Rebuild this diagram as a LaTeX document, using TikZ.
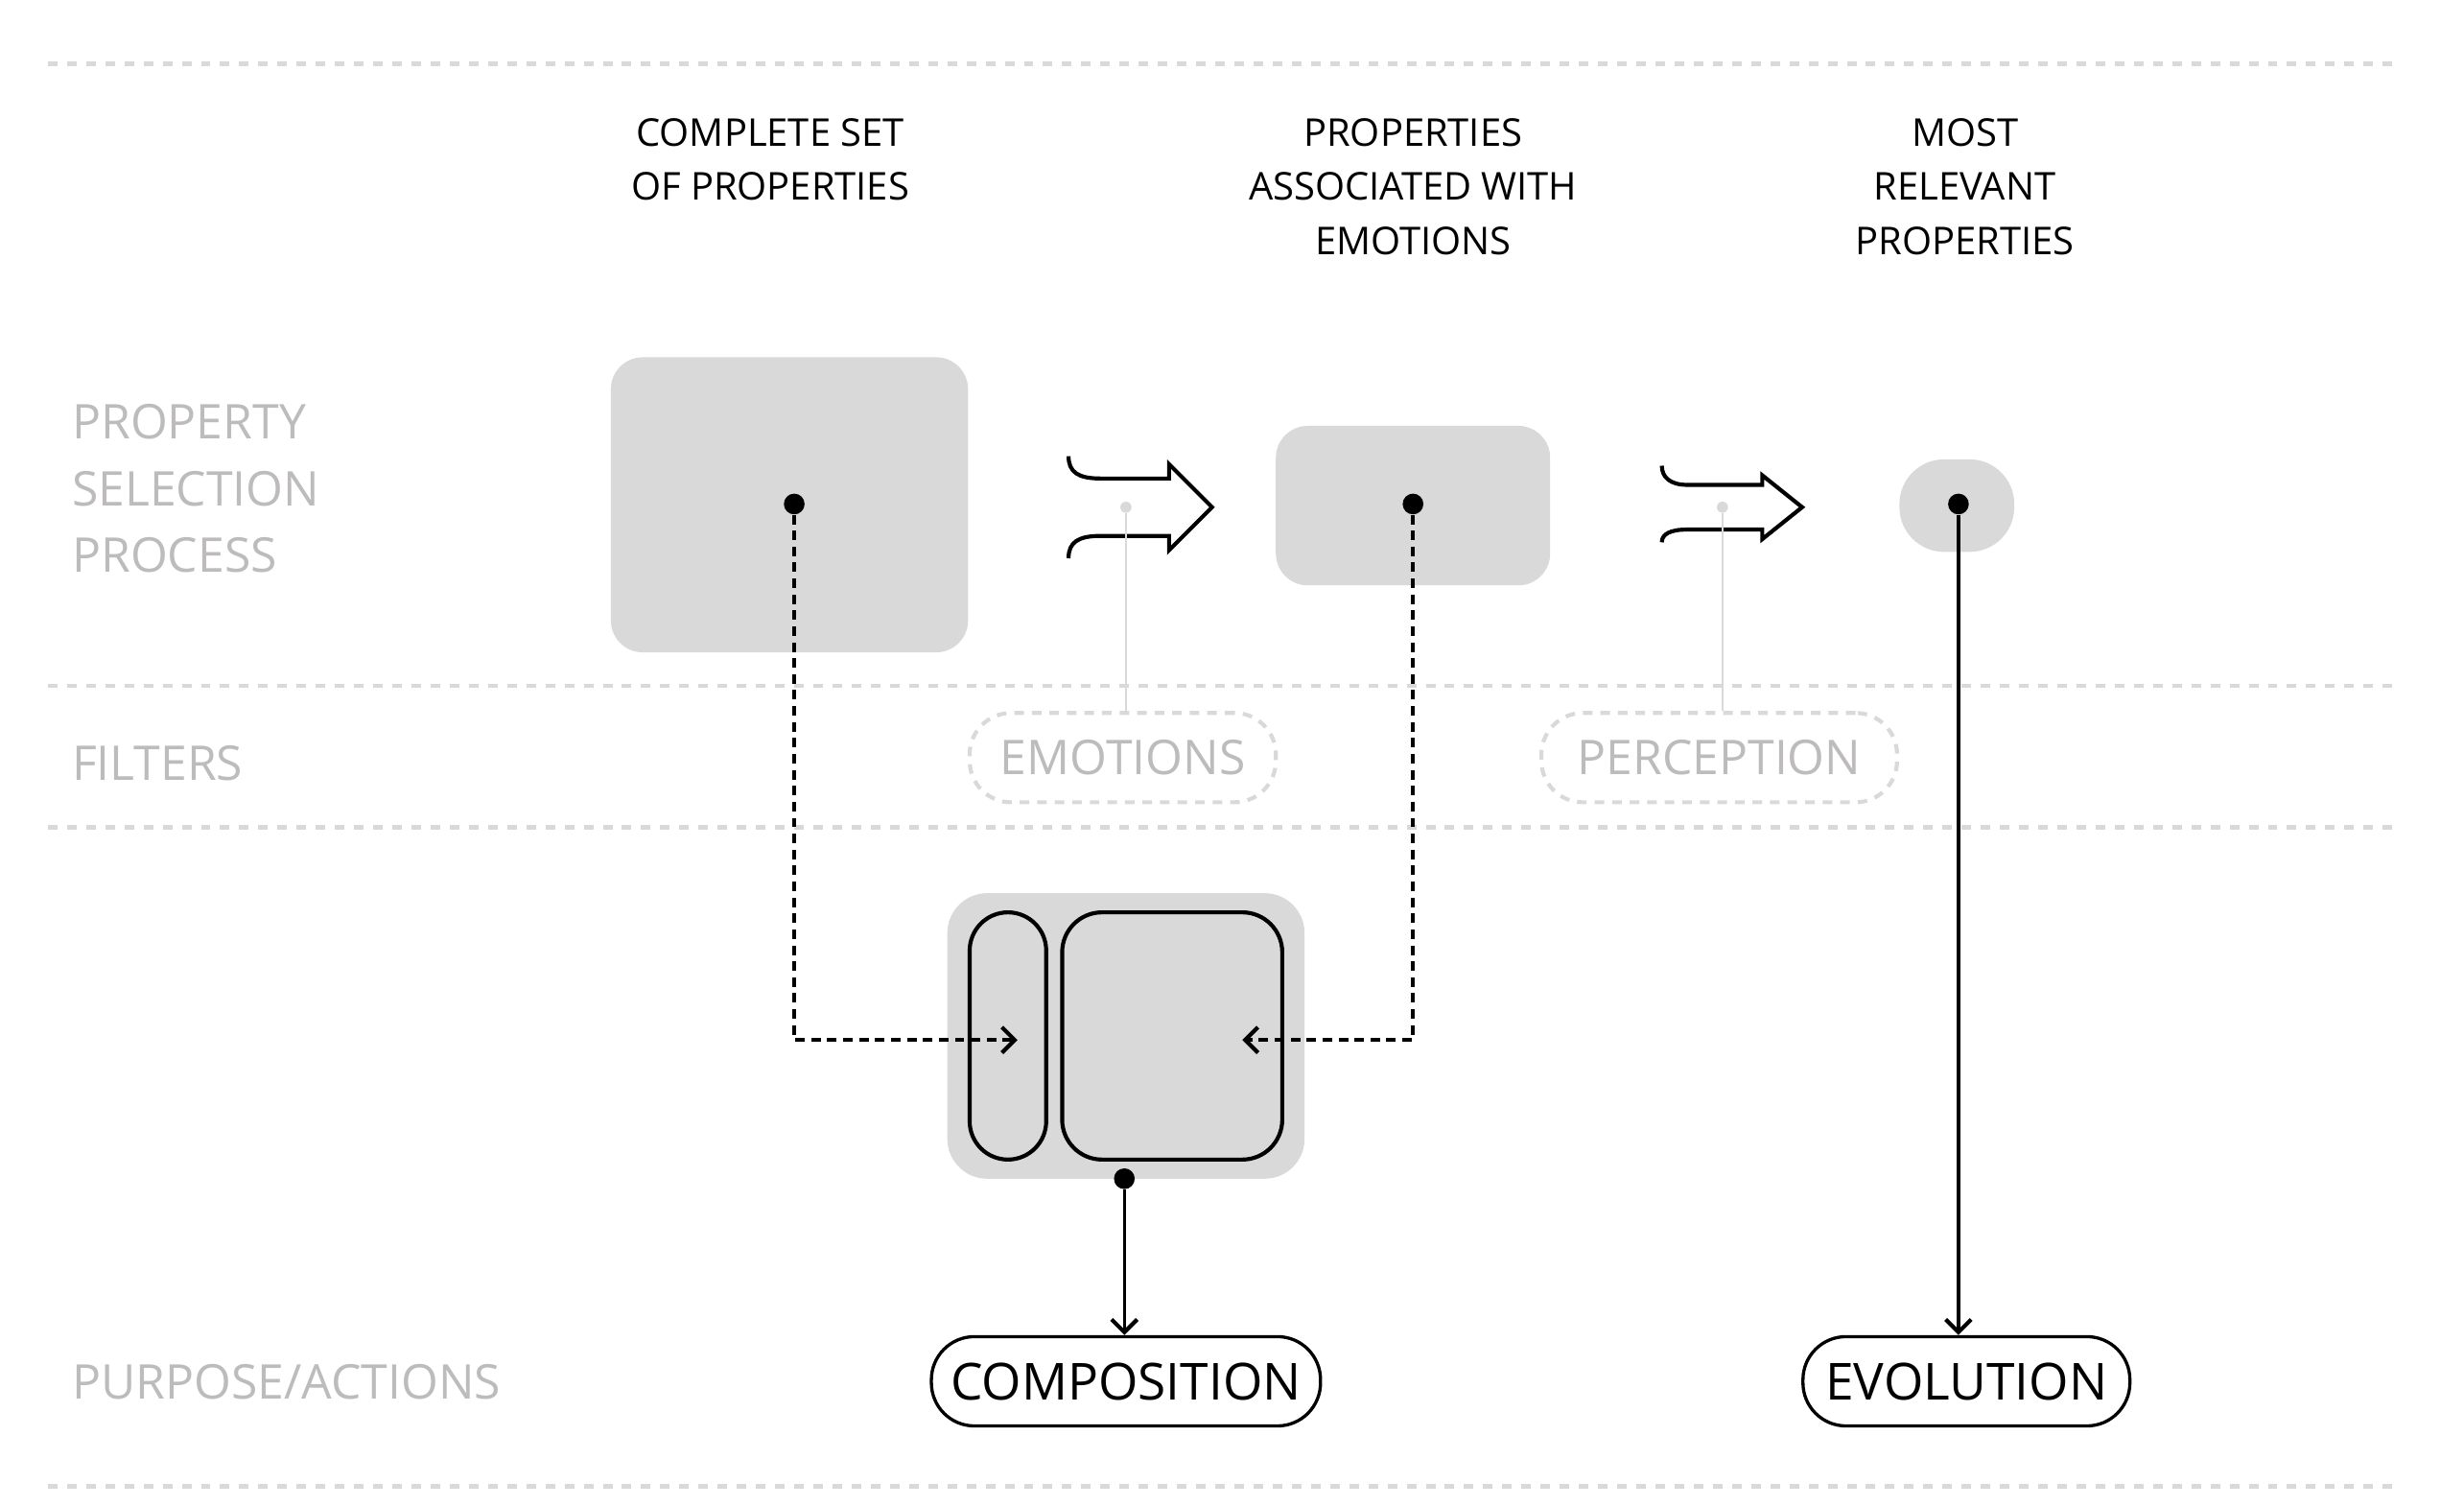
\documentclass[tikz,border=0pt]{standalone}
\usepackage{fontspec}
\setmainfont{Open Sans}
\usetikzlibrary{arrows.meta}
\definecolor{lg}{HTML}{D9D9D9}
\definecolor{tg}{HTML}{BDBBBB}
\begin{document}
\begin{tikzpicture}[x=1pt,y=-1pt,
 sep/.style={lg,line width=3pt,dash pattern=on 6pt off 6pt},
 side/.style={anchor=base west,text=tg,font=\fontsize{30}{30}\selectfont,inner sep=0},
 head/.style={align=center,font=\fontsize{24}{34}\selectfont,inner sep=0,anchor=north},
 gbox/.style={fill=lg,rounded corners=20pt},
 dot/.style={circle,fill=black,inner sep=0,minimum size=13pt},
 gdot/.style={circle,fill=lg,inner sep=0,minimum size=7pt},
 filt/.style={draw=lg,dash pattern=on 6pt off 5pt,line width=2.5pt,rounded corners=26pt,text=tg,font=\fontsize{30}{30}\selectfont,minimum height=56pt,inner xsep=0},
 purp/.style={draw,line width=2pt,rounded corners=27pt,font=\fontsize{32}{32}\selectfont,minimum height=56pt,inner xsep=0},
 tip/.style={-{Straight Barb[length=8pt,width=16pt,line width=2.5pt]}},
 bl/.style={line width=2.5pt}]
\useasboundingbox (0,0) rectangle (1545,944);
\foreach \y in {40,430,519,932} \draw[sep] (30,\y) -- (1503,\y);
% side labels
\node[side] (l1) at (45,275) {PROPERTY};
\node[side] (l2) at (45,317) {SELECTION};
\node[side] (l3) at (45,359) {PROCESS};
\node[side] (l4) at (45,489) {FILTERS};
\node[side] (l5) at (45,877) {PURPOSE/ACTIONS};
% headings
\node[head] (h1) at (483,74) {COMPLETE SET\\OF PROPERTIES};
\node[head] (h2) at (886,74) {PROPERTIES\\ASSOCIATED WITH\\EMOTIONS};
\node[head] (h3) at (1232,74) {MOST\\RELEVANT\\PROPERTIES};
% boxes
\fill[gbox] (383,224) rectangle (607,409);
\fill[gbox] (800,267) rectangle (972,367);
\fill[lg,rounded corners=28pt] (1191,288) rectangle (1263,346);
\node[dot] (d1) at (498,316) {};
\node[dot] (d2) at (886,316) {};
\node[dot] (d3) at (1228,316) {};
% filter arrows
\node[gdot] (g1) at (706,318) {};
\node[gdot] (g2) at (1080,318) {};
\draw[bl,line join=miter] (670,286) .. controls (670,296) and (676,300) .. (690,300) -- (733,300) -- (733,291) -- (760,318) -- (733,345) -- (733,336) -- (690,336) .. controls (676,336) and (670,340) .. (670,350);
\draw[bl,line join=miter] (1042,292) .. controls (1042,299) and (1047,304) .. (1058,304) -- (1105,304) -- (1105,298) -- (1130,318) -- (1105,338) -- (1105,332) -- (1058,332) .. controls (1047,332) and (1042,335) .. (1042,340);
\node[filt,minimum width=192pt] (emo) at (704,475) {EMOTIONS};
\node[filt,minimum width=223pt] (per) at (1078,475) {PERCEPTION};
\draw[lg,line width=1.5pt] (g1) -- (g1|-emo.north);
\draw[lg,line width=1.5pt] (g2) -- (g2|-per.north);
% composite
\fill[lg,rounded corners=25pt] (594,560) rectangle (818,739);
\draw[bl,rounded corners=24pt] (608,572) rectangle (656,727);
\draw[bl,rounded corners=25pt] (666,572) rectangle (804,727);
\coordinate (ta) at (638,652);
\coordinate (tb) at (779,652);
\draw[bl,dash pattern=on 6pt off 4pt,tip] (d1) |- (ta);
\draw[bl,dash pattern=on 6pt off 4pt,tip] (d2) |- (tb);
\node[dot] (d4) at (705,739) {};
\node[purp,minimum width=244pt] (comp) at (706,866) {COMPOSITION};
\node[purp,minimum width=205pt] (evo) at (1233,866) {EVOLUTION};
\draw[line width=2pt,tip] (d4) -- (d4|-comp.north);
\draw[line width=2pt,tip] (d3) -- (d3|-evo.north);
\end{tikzpicture}
\end{document}
